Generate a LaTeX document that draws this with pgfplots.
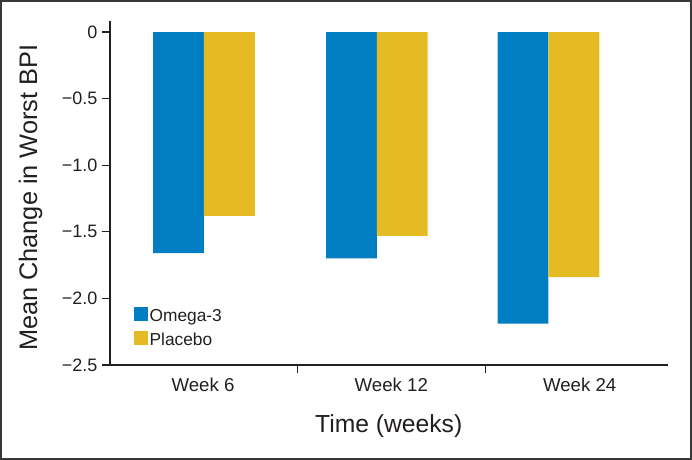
\documentclass[border=0pt]{standalone}
\usepackage{fontspec}
\setmainfont{Liberation Sans}
\usepackage{pgfplots}
\pgfplotsset{compat=1.18}
\definecolor{omega}{RGB}{0,125,195}
\definecolor{placebo}{RGB}{230,186,35}
\definecolor{axisgray}{RGB}{35,31,32}
\begin{document}
\begin{tikzpicture}
\draw[line width=1.5pt, draw=black!78] (0.75pt,0.75pt) rectangle (518.25pt,344.25pt);
\begin{axis}[
  at={(82.5pt,71.25pt)}, anchor=south west,
  scale only axis, width=418.5pt, height=258pt,
  xmin=-0.494, xmax=2.469, ymin=-2.5, ymax=0.083,
  axis x line*=bottom, axis y line*=left,
  axis line style={-, draw=axisgray, line width=1.3pt},
  tick align=outside,
  major tick length=6pt,
  tick style={draw=axisgray, line width=1pt},
  ytick={-2.5,-2,-1.5,-1,-0.5,0},
  yticklabels={−2.5,−2.0,−1.5,−1.0,−0.5,0},
  yticklabel style={font=\fontsize{13.5}{16}\selectfont, text=axisgray},
  xtick={0.5,1.5}, xticklabels={},
  extra x ticks={0,1,2},
  extra x tick labels={Week 6,Week 12,Week 24},
  extra x tick style={major tick length=0pt, tick style={draw=none}},
  xticklabel style={font=\fontsize{14}{17}\selectfont, text=axisgray, yshift=-6pt},
  xlabel={Time (weeks)},
  xlabel style={at={(rel axis cs:0.4995,-0.195)}, anchor=base, font=\fontsize{18.5}{22}\selectfont, text=axisgray},
  ylabel={Mean Change in Worst BPI},
  ylabel style={at={(rel axis cs:-0.1308,0.4863)}, anchor=base, font=\fontsize{19}{22}\selectfont, text=axisgray},
  legend image code/.code={\fill[#1] (0pt,-3.5pt) rectangle (10.5pt,7pt);},
  legend style={at={(rel axis cs:0.043,0.1686)}, anchor=north west, draw=none, fill=none,
    inner sep=0pt, row sep=4pt, font=\fontsize{13}{15}\selectfont, text=axisgray,
    nodes={inner sep=1pt, text height=9.5pt, text depth=2.5pt},
    /tikz/every even column/.append style={column sep=3pt}},
  legend cell align=left,
]
\addplot[ybar, bar width=0.27, bar shift=0pt, fill=omega, draw=none]
  coordinates {(-0.130,-1.66) (0.788,-1.70) (1.699,-2.19)};
\addlegendentry{Omega-3}
\addplot[ybar, bar width=0.27, bar shift=0pt, fill=placebo, draw=none]
  coordinates {(0.140,-1.38) (1.058,-1.53) (1.969,-1.84)};
\addlegendentry{Placebo}
\end{axis}
\end{tikzpicture}
\end{document}
